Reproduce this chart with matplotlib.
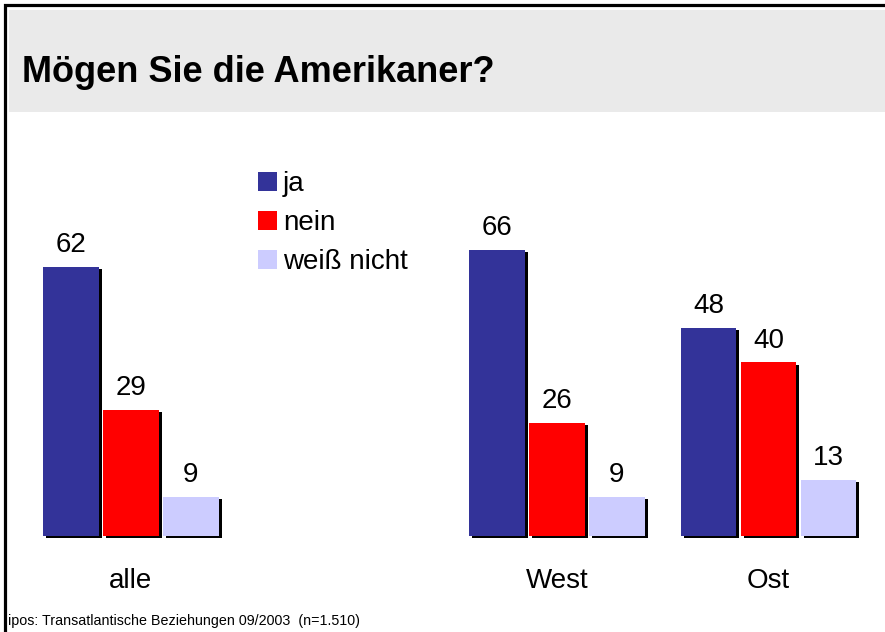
import matplotlib
matplotlib.use("Agg")
import matplotlib.pyplot as plt
import matplotlib.patches as mpatches
from matplotlib.lines import Line2D
import numpy as np

plt.rcParams['font.family'] = ['Liberation Sans', 'DejaVu Sans']

# Daten
groups = ["alle", "West", "Ost"]
series = ["ja", "nein", "weiß nicht"]
ja = [62, 66, 48]
nein = [29, 26, 40]
weiss_nicht = [9, 9, 13]
colors = ["#333399", "#FF0000", "#CCCCFF"]

title = "Mögen Sie die Amerikaner?"
source = "ipos: Transatlantische Beziehungen 09/2003  (n=1.510)"

W, H = 885, 632
fig = plt.figure(figsize=(W / 100, H / 100), dpi=100)


def fx(x):
    return x / W


def fy(y):
    return 1 - y / H


# Rahmen oben/links
fig.add_artist(Line2D([fx(4.5), fx(4.5), fx(890)], [fy(640), fy(4.5), fy(4.5)],
                      transform=fig.transFigure, color="black", lw=2.3,
                      solid_joinstyle="miter"))
# grauer Kopfbereich
fig.add_artist(mpatches.Rectangle((fx(9), fy(112)), 1 - fx(9), (112 - 10) / H,
                                  transform=fig.transFigure, facecolor="#EAEAEA",
                                  edgecolor="none"))
fig.text(fx(22), fy(82), title, fontsize=26, fontweight="bold", va="baseline")

# Balken
ax = fig.add_axes([0, fy(536), 1, (536 - 150) / H])
ax.set_xlim(-71 / 60, 814 / 60)
ax.set_ylim(0, 386 / 4.34)
ax.axis("off")

group_pos = np.array([0, 7.1, 10.625])
bar_w = 0.92
dx, dy = 0.05, 0.5

for i, (name, vals, c) in enumerate(zip(series, [ja, nein, weiss_nicht], colors)):
    x = group_pos + i
    ax.bar(x + dx, vals, bar_w, bottom=-dy, color="black", zorder=1, clip_on=False)
    ax.bar(x, vals, bar_w, color=c, zorder=2, label=name)
    for xi, v in zip(x, vals):
        ax.text(xi, v + 3.4, str(v), ha="center", va="baseline", fontsize=20)

for g, name in zip(group_pos, groups):
    ax.text(g + 1, -12, name, ha="center", va="baseline", fontsize=20, clip_on=False)

handles, labels = ax.get_legend_handles_labels()
fig.legend(handles, labels, loc="upper left", bbox_to_anchor=(fx(258), fy(171)),
           frameon=False, fontsize=20, handlelength=0.68, handleheight=0.68,
           handletextpad=0.22, labelspacing=0.47, borderpad=0, borderaxespad=0)

fig.text(fx(8), fy(625), source, fontsize=10.3, va="baseline")

fig.savefig("out.png", dpi=100)
